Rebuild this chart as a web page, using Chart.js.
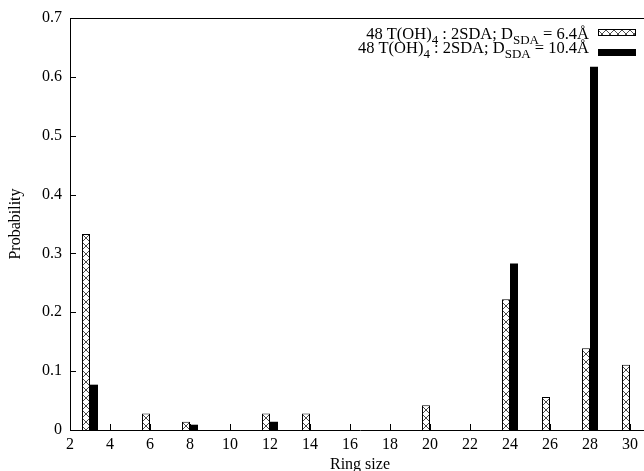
<!DOCTYPE html>
<html>
<head>
<meta charset="utf-8">
<script src="https://cdn.jsdelivr.net/npm/chart.js@4/dist/chart.umd.min.js"></script>
<style>
html,body{margin:0;padding:0;background:#fff;overflow:hidden;}
#wrap{width:644px;height:471px;overflow:hidden;position:relative;}
#c{position:absolute;left:0;top:0;}
</style>
</head>
<body>
<div id="wrap"><canvas id="c" width="680" height="471" style="width:680px;height:471px"></canvas></div>
<script>
// ---- data ----
const ringSizesA = [3, 6, 8, 12, 14, 20, 24, 26, 28, 30];
const probA      = [0.333, 0.028, 0.014, 0.028, 0.028, 0.042, 0.222, 0.056, 0.139, 0.111];
const ringSizesB = [3, 8, 12, 24, 28];
const probB      = [0.077, 0.009, 0.014, 0.283, 0.617];
const xTicks = [2, 4, 6, 8, 10, 12, 14, 16, 18, 20, 22, 24, 26, 28, 30];
const yTicks = [0, 0.1, 0.2, 0.3, 0.4, 0.5, 0.6, 0.7];
const seriesLabels = [
  "48 T(OH)_{4} : 2SDA; D_{SDA} = 6.4Å",
  "48 T(OH)_{4} : 2SDA; D_{SDA} = 10.4Å"
];
const xTitle = "Ring size";
const yTitle = "Probability";

const FONT = "'Liberation Serif', 'Times New Roman', serif";

function makeHatch() {
  const p = document.createElement('canvas');
  p.width = 8; p.height = 8;
  const g = p.getContext('2d');
  g.fillStyle = '#fff';
  g.fillRect(0, 0, 8, 8);
  g.strokeStyle = '#000';
  g.lineWidth = 0.7;
  g.beginPath();
  g.moveTo(0, 0); g.lineTo(8, 8);
  g.moveTo(8, 0); g.lineTo(0, 8);
  g.stroke();
  const pat = g.createPattern(p, 'repeat');
  try { pat.setTransform(new DOMMatrix().translate(6, 6)); } catch (e) {}
  return pat;
}
const hatch = makeHatch();

function parseRich(s) {
  const segs = [];
  const re = /_\{([^}]*)\}/g;
  let last = 0, m;
  while ((m = re.exec(s)) !== null) {
    if (m.index > last) segs.push({t: s.slice(last, m.index), sub: false});
    segs.push({t: m[1], sub: true});
    last = re.lastIndex;
  }
  if (last < s.length) segs.push({t: s.slice(last), sub: false});
  return segs;
}

const frameAndTicks = {
  id: 'frameAndTicks',
  beforeDatasetsDraw(chart) {
    const {ctx, chartArea: a, scales} = chart;
    ctx.save();
    ctx.strokeStyle = '#000';
    ctx.lineWidth = 1;
    ctx.beginPath();
    xTicks.forEach(v => {
      if (v === xTicks[0]) return;
      const x = Math.round(scales.x.getPixelForValue(v)) + 0.5;
      ctx.moveTo(x, a.bottom);
      ctx.lineTo(x, a.bottom - 6);
    });
    yTicks.forEach(v => {
      if (v === yTicks[0] || v === yTicks[yTicks.length - 1]) return;
      const y = Math.round(scales.y.getPixelForValue(v)) + 0.5;
      ctx.moveTo(a.left, y);
      ctx.lineTo(a.left + 6, y);
    });
    ctx.stroke();
    ctx.restore();
  },
  afterDraw(chart) {
    const {ctx, chartArea: a} = chart;
    ctx.save();
    ctx.strokeStyle = '#000';
    ctx.lineWidth = 1;
    ctx.beginPath();
    ctx.moveTo(a.left, Math.round(a.top) + 0.5);
    ctx.lineTo(a.right, Math.round(a.top) + 0.5);
    ctx.stroke();

    const rightX = 589;
    const baselines = [39, 53];
    const swatchY = [29, 49];
    const fills = [hatch, '#000'];
    const mainSize = 16.5, subSize = 13;
    seriesLabels.forEach((lab, i) => {
      const segs = parseRich(lab);
      let w = 0;
      segs.forEach(s => {
        ctx.font = (s.sub ? subSize : mainSize) + 'px ' + FONT;
        s.w = ctx.measureText(s.t).width;
        w += s.w;
      });
      let x = rightX - w;
      ctx.fillStyle = '#000';
      ctx.textBaseline = 'alphabetic';
      ctx.textAlign = 'left';
      segs.forEach(s => {
        ctx.font = (s.sub ? subSize : mainSize) + 'px ' + FONT;
        ctx.fillText(s.t, x, baselines[i] + (s.sub ? 5 : 0));
        x += s.w;
      });
      ctx.fillStyle = fills[i];
      ctx.fillRect(598, swatchY[i], 38, 7);
      if (i === 0) {
        ctx.strokeStyle = '#000';
        ctx.strokeRect(598.5, swatchY[i] + 0.5, 37, 6);
      }
    });
    ctx.restore();
  }
};

new Chart(document.getElementById('c'), {
  type: 'bar',
  data: {
    datasets: [
      {
        label: seriesLabels[0],
        data: ringSizesA.map((x, i) => ({x: x, y: probA[i]})),
        backgroundColor: hatch,
        borderColor: '#000',
        borderWidth: 1,
        categoryPercentage: 0.4,
        barPercentage: 1.0
      },
      {
        label: seriesLabels[1],
        data: ringSizesB.map((x, i) => ({x: x, y: probB[i]})),
        backgroundColor: '#000',
        borderColor: '#000',
        borderWidth: 0,
        categoryPercentage: 0.4,
        barPercentage: 1.0
      }
    ]
  },
  options: {
    responsive: false,
    animation: false,
    events: [],
    layout: {padding: {top: 18, right: 30, left: 0, bottom: 0}},
    plugins: {legend: {display: false}, tooltip: {enabled: false}},
    scales: {
      x: {
        type: 'linear',
        min: 2, max: 31,
        offset: false,
        grid: {display: false, drawTicks: false},
        border: {display: true, color: '#000', width: 1},
        afterBuildTicks: s => { s.ticks = xTicks.map(v => ({value: v})); },
        afterFit: s => { s.height = 41; },
        ticks: {
          color: '#000', padding: 5, maxRotation: 0, autoSkip: false,
          font: {family: FONT, size: 16},
          callback: v => String(v)
        },
        title: {display: true, text: xTitle, color: '#000', padding: {top: 0, bottom: -3},
                font: {family: FONT, size: 16}}
      },
      y: {
        min: 0, max: 0.7,
        grid: {display: false, drawTicks: false},
        border: {display: true, color: '#000', width: 1},
        afterBuildTicks: s => { s.ticks = yTicks.map(v => ({value: v})); },
        afterFit: s => { s.width = 70; },
        ticks: {
          color: '#000', padding: 8,
          font: {family: FONT, size: 16},
          callback: v => (Math.round(v * 10) / 10).toString()
        },
        title: {display: true, text: yTitle, color: '#000', padding: {top: 6, bottom: 0},
                font: {family: FONT, size: 16}}
      }
    }
  },
  plugins: [frameAndTicks]
});
</script>
</body>
</html>
